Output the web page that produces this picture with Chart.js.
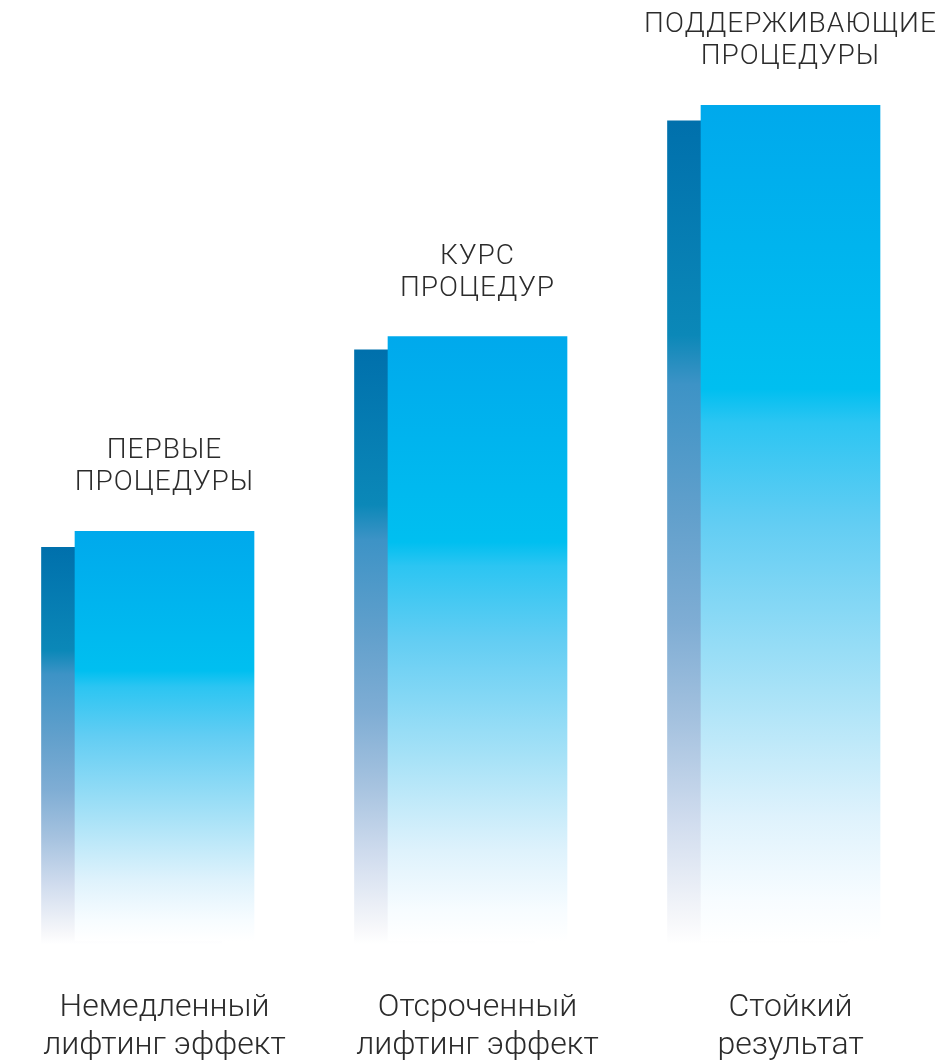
<!DOCTYPE html>
<html>
<head>
<meta charset="utf-8">
<script src="https://cdn.jsdelivr.net/npm/chart.js@4"></script>
<style>
    html, body { margin: 0; padding: 0; background: #ffffff; overflow: hidden; }
    #wrap { width: 947px; height: 1062px; }
</style>
</head>
<body>
<div id="wrap"><canvas id="stages"></canvas></div>
<script>
const categories = [
    ["Немедленный", "лифтинг эффект"],
    ["Отсроченный", "лифтинг эффект"],
    ["Стойкий", "результат"]
]
const stageLabels = [
    ["ПЕРВЫЕ", "ПРОЦЕДУРЫ"],
    ["КУРС", "ПРОЦЕДУР"],
    ["ПОДДЕРЖИВАЮЩИЕ", "ПРОЦЕДУРЫ"]
]
const frontValues = [49, 72.3, 100]
const backValues = [47.1, 70.7, 98.1]
const backBase = -0.4

const textColor = "#2b2b2b"
const backShift = -33

const frontStops = [
    [0, "#00a9ec"], [0.34, "#00bff0"], [0.38, "#2cc5f2"], [0.5, "#62cdf3"],
    [0.7, "#a8e2f7"], [0.85, "#def2fc"], [0.95, "#f7fcff"], [1, "#ffffff"]
]
const backStops = [
    [0, "#0070ac"], [0.26, "#0b88b8"], [0.32, "#3d93c6"], [0.48, "#62a0cc"],
    [0.61, "#7fadd4"], [0.73, "#a5c2df"], [0.85, "#d0dcee"], [0.97, "#f6f7fa"], [1, "#ffffff"]
]

const barGradient = (stops, fallback) => (context) => {
    const chart = context.chart
    const yScale = chart.scales.y
    const raw = context.raw
    if (!chart.chartArea || !yScale || raw === undefined) return fallback
    const top = Array.isArray(raw) ? raw[1] : raw
    const base = Array.isArray(raw) ? raw[0] : 0
    const y0 = yScale.getPixelForValue(top)
    const y1 = yScale.getPixelForValue(base)
    const gradient = chart.ctx.createLinearGradient(0, y0, 0, y1)
    stops.forEach(([offset, color]) => gradient.addColorStop(offset, color))
    return gradient
}

// shifts the back dataset to the left, draws stage captions over the front bars
const stagePlugin = {
    id: "stageLayers",
    beforeDatasetDraw(chart, args) {
        if (args.index !== 1) return
        chart.ctx.save()
        chart.ctx.translate(backShift, 0)
    },
    afterDatasetDraw(chart, args) {
        if (args.index !== 1) return
        chart.ctx.restore()
    },
    afterDatasetsDraw(chart) {
        const ctx = chart.ctx
        const meta = chart.getDatasetMeta(0)
        ctx.save()
        ctx.fillStyle = textColor
        ctx.font = "300 28px Roboto"
        ctx.letterSpacing = "1px"
        ctx.textAlign = "center"
        ctx.textBaseline = "middle"
        meta.data.forEach((bar, i) => {
            const lines = stageLabels[i]
            lines.forEach((line, j) => {
                ctx.fillText(line, bar.x, bar.y - 48 - (lines.length - 1 - j) * 32)
            })
        })
        ctx.restore()
    }
}

const context = document.getElementById("stages").getContext("2d")

new Chart(context, {
    type: "bar",
    data: {
        labels: categories,
        datasets: [{
            data: frontValues,
            backgroundColor: barGradient(frontStops, "#00b4ee"),
            borderWidth: 0,
            barThickness: 179,
            grouped: false
        }, {
            data: backValues.map(v => [backBase, v]),
            backgroundColor: barGradient(backStops, "#0070ac"),
            borderWidth: 0,
            barThickness: 180,
            grouped: false
        }]
    },
    options: {
        responsive: true,
        maintainAspectRatio: false,
        animation: false,
        layout: { padding: { top: 105, left: 8, right: 0, bottom: 0 } },
        scales: {
            x: {
                grid: { display: false, drawTicks: false },
                border: { display: false },
                ticks: {
                    color: textColor,
                    font: { family: "Roboto", weight: 300, size: 32, lineHeight: 38 / 32 },
                    padding: 43,
                    maxRotation: 0,
                    autoSkip: false
                },
                afterFit: (scale) => {
                    scale.height = 116
                    scale.paddingLeft = 0
                    scale.paddingRight = 0
                }
            },
            y: {
                display: false,
                min: -0.6,
                max: 100
            }
        },
        plugins: {
            legend: { display: false },
            tooltip: { enabled: false }
        }
    },
    plugins: [stagePlugin]
})
</script>
</body>
</html>
